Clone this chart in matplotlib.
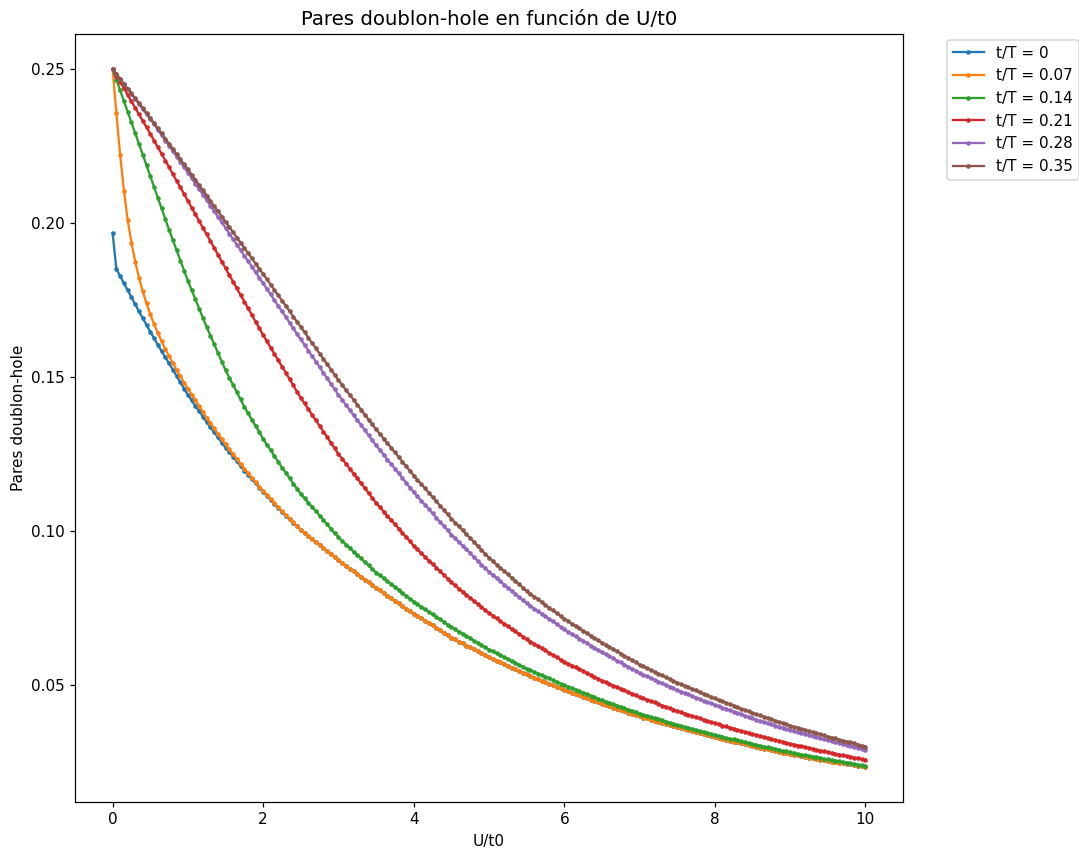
import numpy as np
import matplotlib
matplotlib.use("Agg")
import matplotlib.pyplot as plt

# U/t0 grid, step 0.05
u = np.linspace(0, 10, 201)

labels = ["t/T = 0", "t/T = 0.07", "t/T = 0.14", "t/T = 0.21", "t/T = 0.28", "t/T = 0.35"]

# t/T = 0.35
brown = [
    0.2500, 0.2484, 0.2468, 0.2452, 0.2436, 0.2421, 0.2405, 0.2389, 0.2373, 0.2357,
    0.2341, 0.2324, 0.2308, 0.2291, 0.2274, 0.2258, 0.2241, 0.2224, 0.2207, 0.2191,
    0.2174, 0.2157, 0.2140, 0.2123, 0.2106, 0.2089, 0.2072, 0.2055, 0.2038, 0.2021,
    0.2004, 0.1987, 0.1970, 0.1953, 0.1936, 0.1919, 0.1902, 0.1885, 0.1868, 0.1851,
    0.1834, 0.1817, 0.1800, 0.1782, 0.1765, 0.1748, 0.1731, 0.1714, 0.1696, 0.1679,
    0.1662, 0.1645, 0.1628, 0.1610, 0.1593, 0.1576, 0.1559, 0.1542, 0.1524, 0.1507,
    0.1490, 0.1474, 0.1458, 0.1442, 0.1426, 0.1410, 0.1394, 0.1378, 0.1362, 0.1346,
    0.1330, 0.1315, 0.1300, 0.1285, 0.1270, 0.1255, 0.1240, 0.1225, 0.1210, 0.1195,
    0.1180, 0.1166, 0.1152, 0.1138, 0.1124, 0.1110, 0.1096, 0.1082, 0.1068, 0.1054,
    0.1040, 0.1027, 0.1015, 0.1002, 0.0989, 0.0977, 0.0964, 0.0951, 0.0938, 0.0926,
    0.0913, 0.0902, 0.0891, 0.0881, 0.0870, 0.0859, 0.0848, 0.0837, 0.0827, 0.0816,
    0.0805, 0.0796, 0.0787, 0.0778, 0.0769, 0.0760, 0.0751, 0.0742, 0.0733, 0.0724,
    0.0715, 0.0707, 0.0699, 0.0692, 0.0684, 0.0676, 0.0668, 0.0660, 0.0653, 0.0645,
    0.0637, 0.0630, 0.0623, 0.0616, 0.0609, 0.0602, 0.0594, 0.0587, 0.0580, 0.0573,
    0.0566, 0.0560, 0.0554, 0.0548, 0.0542, 0.0537, 0.0531, 0.0525, 0.0519, 0.0513,
    0.0507, 0.0502, 0.0497, 0.0492, 0.0487, 0.0482, 0.0476, 0.0471, 0.0466, 0.0461,
    0.0456, 0.0451, 0.0447, 0.0442, 0.0437, 0.0433, 0.0428, 0.0423, 0.0418, 0.0414,
    0.0409, 0.0405, 0.0401, 0.0397, 0.0393, 0.0389, 0.0384, 0.0380, 0.0376, 0.0372,
    0.0368, 0.0364, 0.0361, 0.0357, 0.0354, 0.0350, 0.0346, 0.0343, 0.0339, 0.0336,
    0.0332, 0.0329, 0.0326, 0.0322, 0.0319, 0.0316, 0.0313, 0.0310, 0.0306, 0.0303,
    0.0300,
]

# t/T = 0.28
purple = [
    0.2500, 0.2484, 0.2468, 0.2451, 0.2435, 0.2419, 0.2403, 0.2387, 0.2370, 0.2354,
    0.2338, 0.2321, 0.2303, 0.2286, 0.2268, 0.2251, 0.2234, 0.2216, 0.2199, 0.2181,
    0.2164, 0.2146, 0.2128, 0.2110, 0.2092, 0.2074, 0.2056, 0.2038, 0.2020, 0.2002,
    0.1984, 0.1966, 0.1948, 0.1930, 0.1912, 0.1894, 0.1876, 0.1858, 0.1840, 0.1822,
    0.1804, 0.1786, 0.1768, 0.1749, 0.1731, 0.1713, 0.1695, 0.1677, 0.1658, 0.1640,
    0.1622, 0.1604, 0.1586, 0.1568, 0.1550, 0.1532, 0.1514, 0.1496, 0.1478, 0.1460,
    0.1442, 0.1426, 0.1409, 0.1393, 0.1376, 0.1360, 0.1344, 0.1327, 0.1311, 0.1294,
    0.1278, 0.1263, 0.1248, 0.1232, 0.1217, 0.1202, 0.1187, 0.1172, 0.1156, 0.1141,
    0.1126, 0.1112, 0.1098, 0.1085, 0.1071, 0.1057, 0.1043, 0.1029, 0.1016, 0.1002,
    0.0988, 0.0976, 0.0964, 0.0952, 0.0940, 0.0928, 0.0915, 0.0903, 0.0891, 0.0879,
    0.0867, 0.0857, 0.0847, 0.0836, 0.0826, 0.0816, 0.0806, 0.0796, 0.0785, 0.0775,
    0.0765, 0.0757, 0.0748, 0.0740, 0.0731, 0.0723, 0.0714, 0.0706, 0.0697, 0.0689,
    0.0680, 0.0673, 0.0665, 0.0658, 0.0650, 0.0643, 0.0636, 0.0628, 0.0621, 0.0613,
    0.0606, 0.0599, 0.0593, 0.0586, 0.0579, 0.0573, 0.0566, 0.0559, 0.0552, 0.0546,
    0.0539, 0.0533, 0.0528, 0.0522, 0.0517, 0.0511, 0.0505, 0.0500, 0.0494, 0.0489,
    0.0483, 0.0478, 0.0473, 0.0469, 0.0464, 0.0459, 0.0454, 0.0449, 0.0445, 0.0440,
    0.0435, 0.0431, 0.0426, 0.0422, 0.0417, 0.0413, 0.0409, 0.0404, 0.0400, 0.0395,
    0.0391, 0.0387, 0.0383, 0.0380, 0.0376, 0.0372, 0.0368, 0.0364, 0.0361, 0.0357,
    0.0353, 0.0350, 0.0346, 0.0343, 0.0340, 0.0337, 0.0333, 0.0330, 0.0327, 0.0323,
    0.0320, 0.0317, 0.0314, 0.0311, 0.0308, 0.0305, 0.0302, 0.0299, 0.0296, 0.0293,
    0.0290,
]

# t/T = 0.21
red = [
    0.2500, 0.2479, 0.2458, 0.2437, 0.2416, 0.2395, 0.2374, 0.2353, 0.2332, 0.2311,
    0.2290, 0.2268, 0.2246, 0.2225, 0.2203, 0.2181, 0.2159, 0.2137, 0.2116, 0.2094,
    0.2072, 0.2050, 0.2028, 0.2006, 0.1984, 0.1963, 0.1941, 0.1919, 0.1897, 0.1875,
    0.1853, 0.1831, 0.1810, 0.1788, 0.1766, 0.1745, 0.1723, 0.1701, 0.1679, 0.1658,
    0.1636, 0.1616, 0.1595, 0.1575, 0.1554, 0.1534, 0.1514, 0.1493, 0.1473, 0.1452,
    0.1432, 0.1414, 0.1396, 0.1377, 0.1359, 0.1341, 0.1323, 0.1305, 0.1286, 0.1268,
    0.1250, 0.1234, 0.1218, 0.1202, 0.1186, 0.1171, 0.1155, 0.1139, 0.1123, 0.1107,
    0.1091, 0.1077, 0.1063, 0.1049, 0.1035, 0.1022, 0.1008, 0.0994, 0.0980, 0.0966,
    0.0952, 0.0940, 0.0928, 0.0916, 0.0904, 0.0893, 0.0881, 0.0869, 0.0857, 0.0845,
    0.0833, 0.0823, 0.0813, 0.0803, 0.0793, 0.0783, 0.0773, 0.0763, 0.0753, 0.0743,
    0.0733, 0.0725, 0.0716, 0.0708, 0.0699, 0.0691, 0.0682, 0.0674, 0.0665, 0.0657,
    0.0648, 0.0641, 0.0633, 0.0626, 0.0619, 0.0612, 0.0604, 0.0597, 0.0590, 0.0582,
    0.0575, 0.0569, 0.0563, 0.0557, 0.0551, 0.0545, 0.0538, 0.0532, 0.0526, 0.0520,
    0.0514, 0.0509, 0.0503, 0.0498, 0.0493, 0.0488, 0.0482, 0.0477, 0.0472, 0.0466,
    0.0461, 0.0456, 0.0452, 0.0447, 0.0443, 0.0438, 0.0433, 0.0429, 0.0424, 0.0420,
    0.0415, 0.0411, 0.0407, 0.0403, 0.0399, 0.0395, 0.0391, 0.0387, 0.0383, 0.0379,
    0.0375, 0.0372, 0.0368, 0.0365, 0.0361, 0.0358, 0.0354, 0.0351, 0.0347, 0.0344,
    0.0340, 0.0337, 0.0334, 0.0331, 0.0328, 0.0325, 0.0321, 0.0318, 0.0315, 0.0312,
    0.0309, 0.0306, 0.0303, 0.0301, 0.0298, 0.0295, 0.0292, 0.0289, 0.0287, 0.0284,
    0.0281, 0.0279, 0.0276, 0.0274, 0.0271, 0.0269, 0.0267, 0.0264, 0.0262, 0.0259,
    0.0257,
]

# t/T = 0.14
green = [
    0.2500, 0.2465, 0.2431, 0.2396, 0.2362, 0.2327, 0.2292, 0.2257, 0.2222, 0.2187,
    0.2152, 0.2117, 0.2082, 0.2048, 0.2013, 0.1978, 0.1945, 0.1912, 0.1878, 0.1845,
    0.1812, 0.1782, 0.1752, 0.1722, 0.1692, 0.1662, 0.1634, 0.1606, 0.1578, 0.1550,
    0.1522, 0.1498, 0.1474, 0.1451, 0.1427, 0.1403, 0.1382, 0.1361, 0.1341, 0.1320,
    0.1299, 0.1280, 0.1262, 0.1243, 0.1225, 0.1206, 0.1189, 0.1172, 0.1154, 0.1137,
    0.1120, 0.1106, 0.1092, 0.1078, 0.1064, 0.1050, 0.1035, 0.1021, 0.1007, 0.0993,
    0.0979, 0.0968, 0.0956, 0.0945, 0.0933, 0.0922, 0.0911, 0.0899, 0.0888, 0.0876,
    0.0865, 0.0856, 0.0846, 0.0837, 0.0827, 0.0818, 0.0808, 0.0799, 0.0789, 0.0780,
    0.0770, 0.0762, 0.0754, 0.0745, 0.0737, 0.0729, 0.0721, 0.0713, 0.0704, 0.0696,
    0.0688, 0.0681, 0.0673, 0.0666, 0.0659, 0.0652, 0.0644, 0.0637, 0.0630, 0.0622,
    0.0615, 0.0609, 0.0603, 0.0596, 0.0590, 0.0584, 0.0578, 0.0572, 0.0565, 0.0559,
    0.0553, 0.0548, 0.0542, 0.0537, 0.0531, 0.0526, 0.0521, 0.0515, 0.0510, 0.0504,
    0.0499, 0.0494, 0.0489, 0.0484, 0.0479, 0.0475, 0.0470, 0.0465, 0.0460, 0.0455,
    0.0450, 0.0446, 0.0441, 0.0437, 0.0433, 0.0429, 0.0424, 0.0420, 0.0416, 0.0411,
    0.0407, 0.0403, 0.0400, 0.0396, 0.0392, 0.0389, 0.0385, 0.0381, 0.0377, 0.0374,
    0.0370, 0.0367, 0.0363, 0.0360, 0.0357, 0.0354, 0.0350, 0.0347, 0.0344, 0.0340,
    0.0337, 0.0334, 0.0331, 0.0328, 0.0325, 0.0323, 0.0320, 0.0317, 0.0314, 0.0311,
    0.0308, 0.0305, 0.0303, 0.0300, 0.0297, 0.0295, 0.0292, 0.0289, 0.0286, 0.0284,
    0.0281, 0.0279, 0.0276, 0.0274, 0.0272, 0.0270, 0.0267, 0.0265, 0.0263, 0.0260,
    0.0258, 0.0256, 0.0254, 0.0252, 0.0250, 0.0248, 0.0245, 0.0243, 0.0241, 0.0239,
    0.0237,
]

# t/T = 0.07
orange = [
    0.2500, 0.2356, 0.2221, 0.2105, 0.2010, 0.1936, 0.1875, 0.1823, 0.1778, 0.1739,
    0.1704, 0.1672, 0.1643, 0.1616, 0.1591, 0.1567, 0.1545, 0.1523, 0.1502, 0.1482,
    0.1462, 0.1443, 0.1424, 0.1405, 0.1386, 0.1367, 0.1350, 0.1333, 0.1315, 0.1298,
    0.1281, 0.1265, 0.1249, 0.1234, 0.1218, 0.1202, 0.1188, 0.1173, 0.1159, 0.1144,
    0.1130, 0.1117, 0.1104, 0.1090, 0.1077, 0.1064, 0.1052, 0.1040, 0.1028, 0.1016,
    0.1004, 0.0994, 0.0984, 0.0974, 0.0964, 0.0955, 0.0945, 0.0935, 0.0925, 0.0915,
    0.0905, 0.0896, 0.0887, 0.0878, 0.0869, 0.0860, 0.0851, 0.0842, 0.0833, 0.0824,
    0.0815, 0.0807, 0.0798, 0.0790, 0.0781, 0.0773, 0.0765, 0.0756, 0.0748, 0.0739,
    0.0731, 0.0723, 0.0716, 0.0708, 0.0700, 0.0693, 0.0685, 0.0677, 0.0669, 0.0662,
    0.0654, 0.0648, 0.0641, 0.0635, 0.0628, 0.0622, 0.0616, 0.0609, 0.0603, 0.0596,
    0.0590, 0.0584, 0.0579, 0.0573, 0.0568, 0.0562, 0.0556, 0.0551, 0.0545, 0.0540,
    0.0534, 0.0529, 0.0524, 0.0519, 0.0514, 0.0509, 0.0504, 0.0499, 0.0494, 0.0489,
    0.0484, 0.0479, 0.0475, 0.0470, 0.0466, 0.0461, 0.0456, 0.0452, 0.0447, 0.0443,
    0.0438, 0.0434, 0.0430, 0.0426, 0.0422, 0.0418, 0.0414, 0.0410, 0.0406, 0.0402,
    0.0398, 0.0394, 0.0391, 0.0387, 0.0384, 0.0380, 0.0376, 0.0373, 0.0369, 0.0366,
    0.0362, 0.0359, 0.0356, 0.0352, 0.0349, 0.0346, 0.0343, 0.0340, 0.0336, 0.0333,
    0.0330, 0.0327, 0.0324, 0.0321, 0.0318, 0.0316, 0.0313, 0.0310, 0.0307, 0.0304,
    0.0301, 0.0298, 0.0296, 0.0293, 0.0291, 0.0288, 0.0285, 0.0283, 0.0280, 0.0278,
    0.0275, 0.0273, 0.0271, 0.0268, 0.0266, 0.0264, 0.0262, 0.0260, 0.0257, 0.0255,
    0.0253, 0.0251, 0.0249, 0.0247, 0.0245, 0.0244, 0.0242, 0.0240, 0.0238, 0.0236,
    0.0234,
]

# t/T = 0, U/t0 from 0 to 2.45; beyond that it runs under the t/T = 0.07 curve
blue_head = [
    0.1967, 0.1850, 0.1828, 0.1804, 0.1782, 0.1759, 0.1736, 0.1713, 0.1691, 0.1669,
    0.1647, 0.1626, 0.1605, 0.1584, 0.1564, 0.1544, 0.1524, 0.1503, 0.1483, 0.1462,
    0.1442, 0.1424, 0.1406, 0.1389, 0.1371, 0.1353, 0.1337, 0.1320, 0.1304, 0.1287,
    0.1271, 0.1256, 0.1241, 0.1226, 0.1211, 0.1196, 0.1182, 0.1168, 0.1155, 0.1141,
    0.1127, 0.1114, 0.1101, 0.1088, 0.1075, 0.1062, 0.1050, 0.1038, 0.1027, 0.1015,
]
blue = blue_head + orange[len(blue_head):]

series = [blue, orange, green, red, purple, brown]

# the reference looks rendered at ~110 dpi (text and lines a bit larger)
dpi = 110
fig = plt.figure(figsize=(1079 / dpi, 849 / dpi), dpi=dpi)
ax = fig.add_axes([0.0695, 0.0557, 0.7674, 0.904])

for vals, lab in zip(series, labels):
    ax.plot(u, vals, marker="o", markersize=2, linewidth=1.5, label=lab)

ax.set_title("Pares doublon-hole en función de U/t0", fontsize=12.9)
ax.set_xlabel("U/t0")
ax.set_ylabel("Pares doublon-hole", labelpad=2.7)
ax.legend(bbox_to_anchor=(1.044, 1.003), loc="upper left")

fig.savefig("out.png", dpi=dpi)
